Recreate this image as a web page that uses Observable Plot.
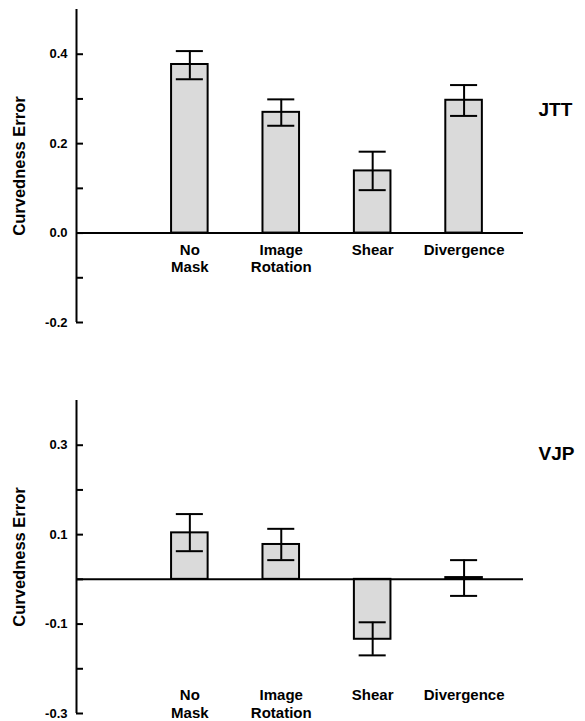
<!DOCTYPE html>
<html>
<head>
<meta charset="utf-8">
<script src="https://cdn.jsdelivr.net/npm/d3@7"></script>
<script src="https://cdn.jsdelivr.net/npm/@observablehq/plot@0.6"></script>
<style>
  html, body { margin: 0; padding: 0; background: #fff; }
  #chart svg { display: block; overflow: visible; }
</style>
</head>
<body>
<div id="chart"></div>
<script>
// ---- data ----
const categories = ["No Mask", "Image Rotation", "Shear", "Divergence"];
const categoryLabels = ["No\nMask", "Image\nRotation", "Shear", "Divergence"];
const positions = [1, 2, 3, 4];

const jttMean = [0.377, 0.270, 0.139, 0.297];
const jttLow  = [0.344, 0.240, 0.096, 0.262];
const jttHigh = [0.407, 0.299, 0.182, 0.331];

const vjpMean = [0.104, 0.078, -0.134, 0.004];
const vjpLow  = [0.063, 0.043, -0.170, -0.037];
const vjpHigh = [0.146, 0.113, -0.096, 0.043];

const jttMajorTicks = [-0.2, 0.0, 0.2, 0.4];
const jttMinorTicks = [-0.1, 0.1, 0.3];
const vjpMajorTicks = [-0.3, -0.1, 0.1, 0.3];
const vjpMinorTicks = [-0.2, 0.0, 0.2];

const jttYDomain = [-0.2, 0.5];
const vjpYDomain = [-0.3, 0.4];
const xDomain = [-0.24, 4.65];

const yTitle = "Curvedness Error";

function rows(mean, low, high) {
  return categories.map((c, i) => ({
    category: c, label: categoryLabels[i], pos: positions[i],
    mean: mean[i], low: low[i], high: high[i]
  }));
}

const FONT = "'Liberation Sans', Arial, Helvetica, sans-serif";
const barHalf = 0.2;
const capHalf = 0.148;

function panel({data, yDomain, majorTicks, minorTicks, name, height, marginTop, marginBottom, nameDy, labelMode}) {
  const labelOpts = labelMode === "zero"
    ? {x: "pos", y: () => 0, dy: 9}
    : {x: "pos", frameAnchor: "bottom", dy: -26};
  return Plot.plot({
    width: 585,
    height,
    marginLeft: 76,
    marginRight: 62,
    marginTop,
    marginBottom,
    style: {fontFamily: FONT, background: "white", color: "black"},
    x: {domain: xDomain, axis: null},
    y: {domain: yDomain, axis: null},
    marks: [
      Plot.rect(data, {
        x1: d => d.pos - barHalf, x2: d => d.pos + barHalf,
        y1: () => 0, y2: "mean",
        fill: "#dadada", stroke: "black", strokeWidth: 2
      }),
      Plot.ruleY([0], {stroke: "black", strokeWidth: 2}),
      Plot.ruleX([xDomain[0]], {stroke: "black", strokeWidth: 2}),
      Plot.ruleX(data, {x: "pos", y1: "low", y2: "high", stroke: "black", strokeWidth: 2}),
      Plot.ruleY(data, {y: "high", x1: d => d.pos - capHalf, x2: d => d.pos + capHalf, stroke: "black", strokeWidth: 2}),
      Plot.ruleY(data, {y: "low", x1: d => d.pos - capHalf, x2: d => d.pos + capHalf, stroke: "black", strokeWidth: 2}),
      // tick marks (inward)
      Plot.axisY({ticks: majorTicks.concat(minorTicks), tickSize: 7, dx: 7, fill: "none", stroke: "black", strokeWidth: 2, label: null}),
      // tick labels
      Plot.axisY({ticks: majorTicks, tickSize: 0, tickPadding: 9, tickFormat: d => d.toFixed(1),
        fontSize: 13, fontWeight: "bold", fill: "black", label: null}),
      // axis title
      Plot.text([yTitle], {frameAnchor: "left", rotate: -90, dx: -57, textAnchor: "middle",
        fontSize: 16.5, fontWeight: "bold", fill: "black"}),
      // category labels
      Plot.text(data, {...labelOpts, text: "label", lineAnchor: "top", lineHeight: 1.17,
        fontSize: 15, fontWeight: "bold", fill: "black"}),
      // panel name
      Plot.text([name], {frameAnchor: "top-right", dx: 15, dy: nameDy, textAnchor: "start",
        fontSize: 19, fontWeight: "bold", fill: "black"})
    ]
  });
}

const chart = document.getElementById("chart");
chart.append(panel({
  data: rows(jttMean, jttLow, jttHigh), yDomain: jttYDomain,
  majorTicks: jttMajorTicks, minorTicks: jttMinorTicks, name: "JTT",
  height: 340, marginTop: 9, marginBottom: 18, nameDy: 93, labelMode: "zero"
}));
chart.append(panel({
  data: rows(vjpMean, vjpLow, vjpHigh), yDomain: vjpYDomain,
  majorTicks: vjpMajorTicks, minorTicks: vjpMinorTicks, name: "VJP",
  height: 381, marginTop: 60, marginBottom: 8, nameDy: 46, labelMode: "bottom"
}));
</script>
</body>
</html>
